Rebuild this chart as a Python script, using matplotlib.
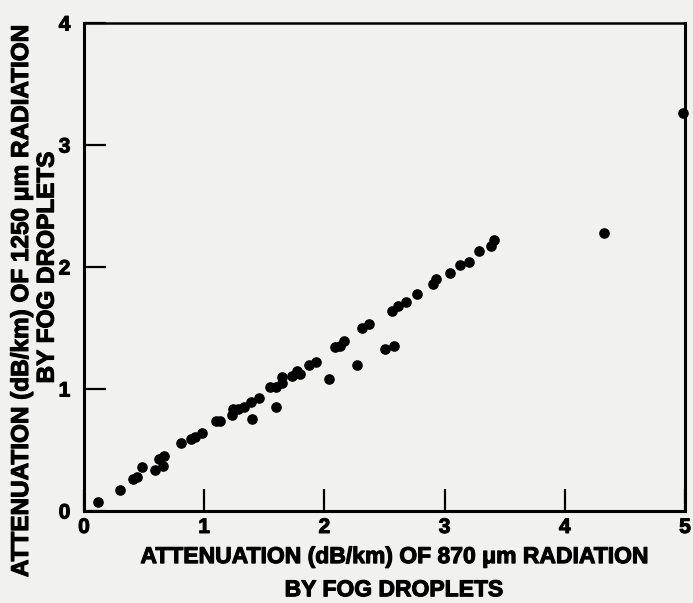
import matplotlib.pyplot as plt
import matplotlib.patheffects as pe

# attenuation at 870 um (x) vs 1250 um (y), dB/km
atten_870 = [0.12, 0.30, 0.41, 0.44, 0.48, 0.59, 0.66, 0.62, 0.665, 0.81,
             0.89, 0.92, 0.98, 1.10, 1.13, 1.23, 1.24, 1.28, 1.33, 1.395,
             1.39, 1.46, 1.55, 1.595, 1.595, 1.645, 1.65, 1.73, 1.77, 1.80,
             1.87, 1.93, 2.04, 2.09, 2.13, 2.16, 2.27, 2.31, 2.37, 2.50,
             2.58, 2.56, 2.61, 2.68, 2.77, 2.90, 2.93, 3.045, 3.13, 3.20,
             3.29, 3.39, 3.41, 4.33, 4.98]
atten_1250 = [0.07, 0.17, 0.26, 0.28, 0.36, 0.34, 0.37, 0.43, 0.45, 0.56,
              0.59, 0.61, 0.64, 0.74, 0.74, 0.79, 0.84, 0.84, 0.85, 0.75,
              0.89, 0.93, 1.02, 1.02, 0.85, 1.10, 1.05, 1.11, 1.15, 1.12,
              1.20, 1.22, 1.08, 1.34, 1.35, 1.39, 1.20, 1.50, 1.53, 1.33,
              1.35, 1.64, 1.68, 1.71, 1.78, 1.86, 1.90, 1.95, 2.02, 2.04,
              2.13, 2.17, 2.22, 2.28, 3.26]

x_ticks = [0, 1, 2, 3, 4, 5]
y_ticks = [0, 1, 2, 3, 4]

x_label = ["ATTENUATION (dB/km) OF 870 \u03bcm RADIATION", "BY FOG DROPLETS"]
y_label = ["ATTENUATION (dB/km) OF 1250 \u03bcm RADIATION", "BY FOG DROPLETS"]

plt.rcParams['font.family'] = ['Liberation Sans', 'DejaVu Sans']
plt.rcParams['font.weight'] = 'bold'

# make the text a bit heavier, like the old typeset figure
heavy = [pe.withStroke(linewidth=0.8, foreground='black')]

bg = '#f1f1ef'
fig = plt.figure(figsize=(6.93, 6.03), dpi=100, facecolor=bg)
ax = fig.add_axes([0.1212, 0.1526, 0.8673, 0.8093], facecolor=bg)

ax.scatter(atten_870, atten_1250, s=44, color='black', zorder=3, clip_on=False)

ax.set_xlim(0, 5)
ax.set_ylim(0, 4)
ax.set_xticks(x_ticks)
ax.set_yticks(y_ticks)
ax.tick_params(direction='in', length=16, width=1.6, labelsize=15,
               top=False, right=False, colors='black')
ax.tick_params(axis='x', pad=5)
ax.tick_params(axis='y', pad=14)
for lab in ax.get_xticklabels() + ax.get_yticklabels():
    lab.set_fontweight('bold')
    lab.set_path_effects(heavy)
for lab in ax.get_yticklabels():
    lab.set_horizontalalignment('center')

for side in ax.spines.values():
    side.set_linewidth(2.2)
ax.spines['top'].set_linewidth(1.8)

# axis titles, one text per line
fig.text(0.568, 0.077, x_label[0], ha='center', va='center', fontsize=16.5,
         fontweight='bold', path_effects=heavy)
fig.text(0.568, 0.022, x_label[1], ha='center', va='center', fontsize=16.5,
         fontweight='bold', path_effects=heavy)
fig.text(0.031, 0.5, y_label[0], ha='center', va='center', rotation=90,
         fontsize=17.5, fontweight='bold', path_effects=heavy)
fig.text(0.068, 0.556, y_label[1], ha='center', va='center', rotation=90,
         fontsize=17.5, fontweight='bold', path_effects=heavy)

plt.savefig('out.png', dpi=100, facecolor=bg)
